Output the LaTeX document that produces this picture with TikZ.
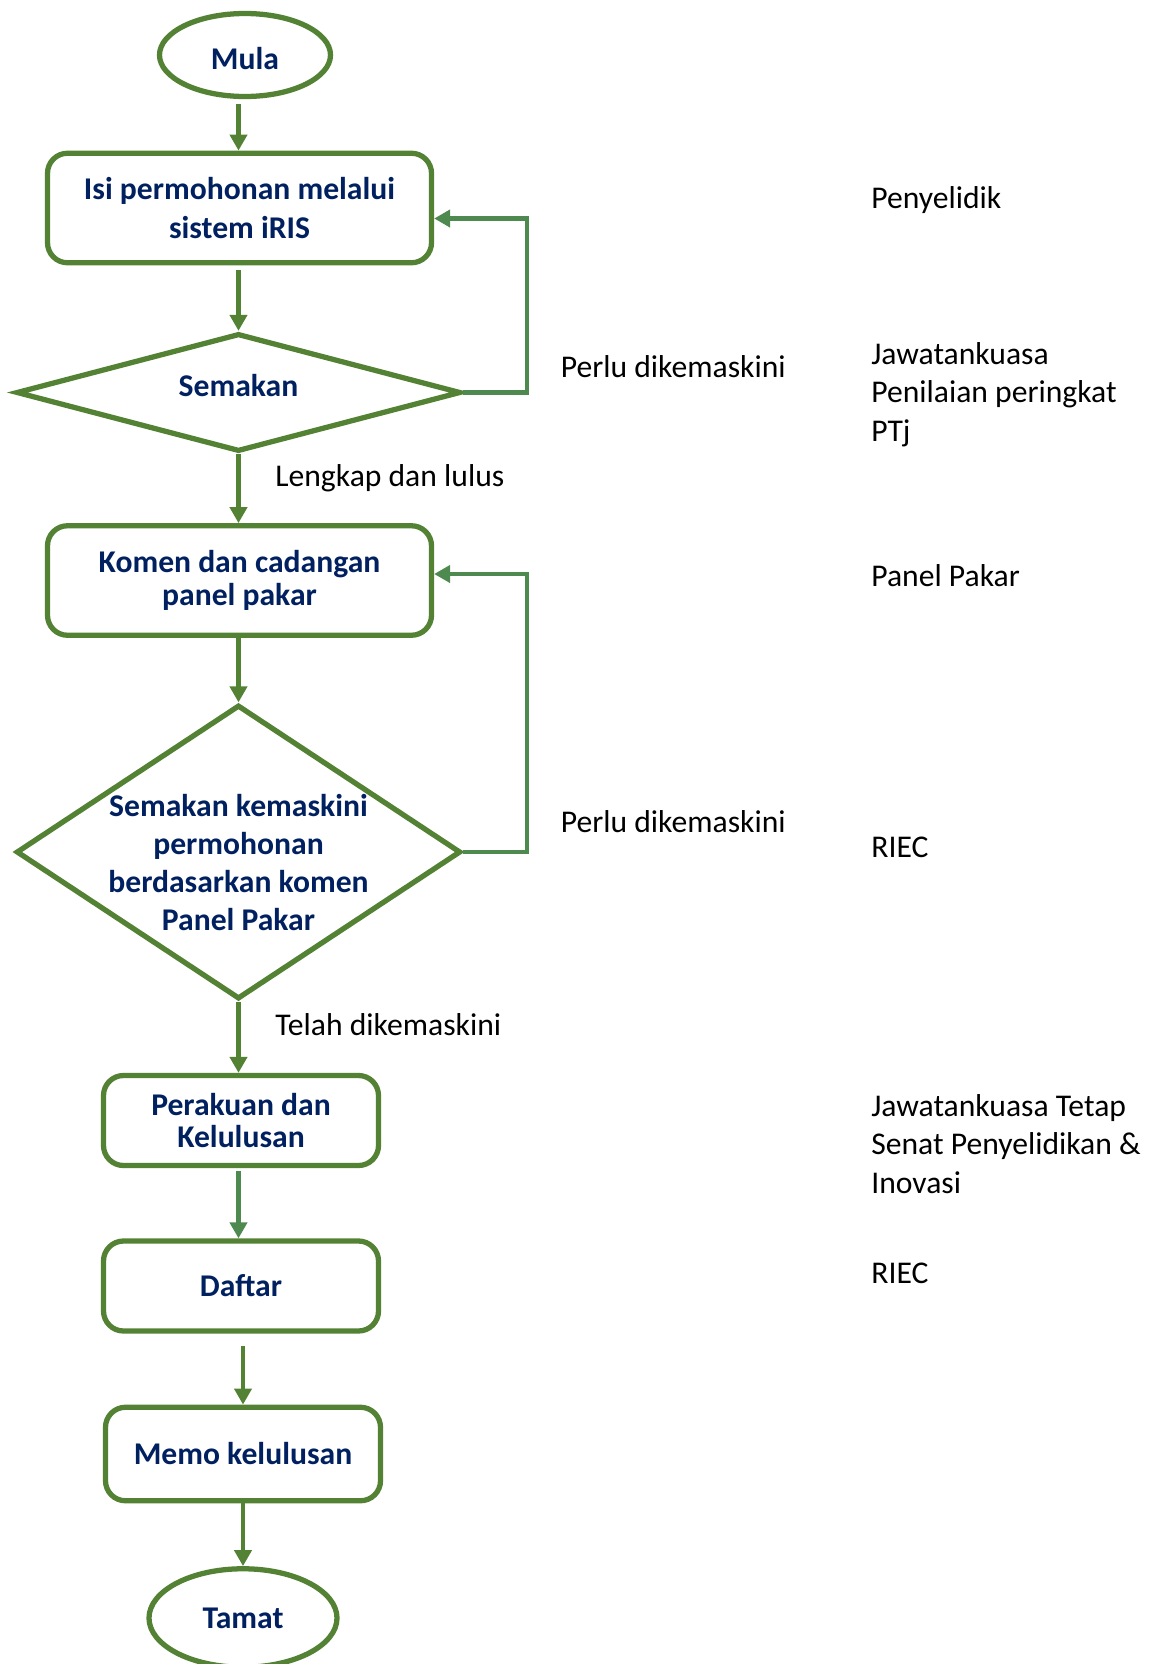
\documentclass[tikz,border=0pt]{standalone}
\usepackage{fontspec}
\setmainfont{Carlito}
\usepackage{tikz}
\usetikzlibrary{
    shapes.geometric,% for the ellipse and diamond
    arrows.meta,%
    positioning%
}
\definecolor{flowgreen}{HTML}{548235}
\definecolor{backgreen}{HTML}{4E8A50}
\definecolor{flownavy}{HTML}{002060}

\begin{document}
\begin{tikzpicture}[
    terminal/.style={ellipse, draw=flowgreen, line width=3pt, inner sep=0pt},
    process/.style={rectangle, rounded corners=0.4cm, draw=flowgreen, line width=3pt, inner sep=0pt},
    decision/.style={diamond, draw=flowgreen, line width=3pt, inner sep=0pt},
    flowtext/.style={text=flownavy, font=\fontsize{18}{22}\selectfont\bfseries, align=center},
    sidetext/.style={font=\fontsize{18}{22}\selectfont, align=left, anchor=west, inner sep=0pt},
    flow/.style={draw=flowgreen, line width=2.8pt, -{Triangle[length=0.32cm,width=0.34cm]}},
    backflow/.style={draw=backgreen, line width=2.6pt, -{Triangle[length=0.32cm,width=0.34cm]}}
]
    \useasboundingbox (0,0) rectangle (23.26,-33.28);

    \node[terminal, minimum width=3.42cm, minimum height=1.66cm] (mula) at (4.90,-1.10) {};
    \node[flowtext] (mulatxt) at (4.90,-1.18) {Mula};

    \node[process, flowtext, minimum width=7.68cm, minimum height=2.19cm] (isi) at (4.79,-4.16)
        {Isi permohonan melalui\\sistem iRIS};

    \node[decision, minimum width=8.89cm, minimum height=2.36cm] (semak) at (4.77,-7.85) {};
    \node[flowtext] (semaktxt) at (4.77,-7.72) {Semakan};

    \node[process, flowtext, font=\fontsize{18}{18.7}\selectfont\bfseries,
        minimum width=7.68cm, minimum height=2.19cm] (komen) at (4.79,-11.61)
        {Komen dan cadangan\\panel pakar};

    \node[decision, minimum width=8.89cm, minimum height=5.88cm] (semak2) at (4.77,-17.04) {};
    \node[flowtext, font=\fontsize{18}{21.7}\selectfont\bfseries] (semak2txt) at (4.77,-17.25)
        {Semakan kemaskini\\permohonan\\berdasarkan komen\\Panel Pakar};

    \node[process, flowtext, font=\fontsize{18}{18}\selectfont\bfseries,
        minimum width=5.50cm, minimum height=1.80cm] (perakuan) at (4.82,-22.41)
        {Perakuan dan\\Kelulusan};
    \node[process, flowtext, minimum width=5.50cm, minimum height=1.80cm] (daftar) at (4.82,-25.72) {Daftar};
    \node[process, flowtext, minimum width=5.50cm, minimum height=1.87cm] (memo) at (4.86,-29.08) {Memo kelulusan};

    \node[terminal, flowtext, minimum width=3.76cm, minimum height=1.97cm] (tamat) at (4.86,-32.36) {Tamat};

    %%% main flow
    \draw[flow, shorten <=0.1cm] (semak.north |- mula.south) -- (semak.north |- isi.north);
    \draw[flow, shorten <=0.1cm] (semak.north |- isi.south) -- (semak.north);
    \draw[flow] (semak.south) -- (semak.south |- komen.north);
    \draw[flow] (semak.south |- komen.south) -- (semak2.north);
    \draw[flow] (semak2.south) -- (semak2.south |- perakuan.north);
    \draw[flow, draw=backgreen, shorten <=0.05cm] (semak2.south |- perakuan.south) -- (semak2.south |- daftar.north);
    \draw[flow, shorten <=0.25cm] (memo.north |- daftar.south) -- (memo.north);
    \draw[flow] (memo.south) -- (tamat.north);

    %%% back to the form
    \draw[backflow] (semak.east) -- ++(1.27,0) |- ([yshift=-0.21cm]isi.east);
    \draw[backflow] (semak2.east) -- ++(1.27,0) |- ([yshift=0.13cm]komen.east);

    %%% labels on the flow
    \node[sidetext] (perlu) at (11.21,-7.34) {Perlu dikemaskini};
    \node[sidetext] (lengkap) at (5.50,-9.57) {Lengkap dan lulus};
    \node[sidetext] (perlu2) at (11.21,-16.43) {Perlu dikemaskini};
    \node[sidetext] (telah) at (5.50,-20.50) {Telah dikemaskini};

    %%% who does it
    \node[sidetext] (penyelidik) at (17.42,-4.01) {Penyelidik};
    \node[sidetext] (jkpenilaian) at (17.42,-7.89) {Jawatankuasa\\Penilaian peringkat\\PTj};
    \node[sidetext] (panel) at (17.42,-11.52) {Panel Pakar};
    \node[sidetext] (riec) at (17.42,-16.94) {RIEC};
    \node[sidetext] (jktetap) at (17.42,-22.88) {Jawatankuasa Tetap\\Senat Penyelidikan \&\\Inovasi};
    \node[sidetext] (riec2) at (17.42,-25.47) {RIEC};
\end{tikzpicture}
\end{document}
